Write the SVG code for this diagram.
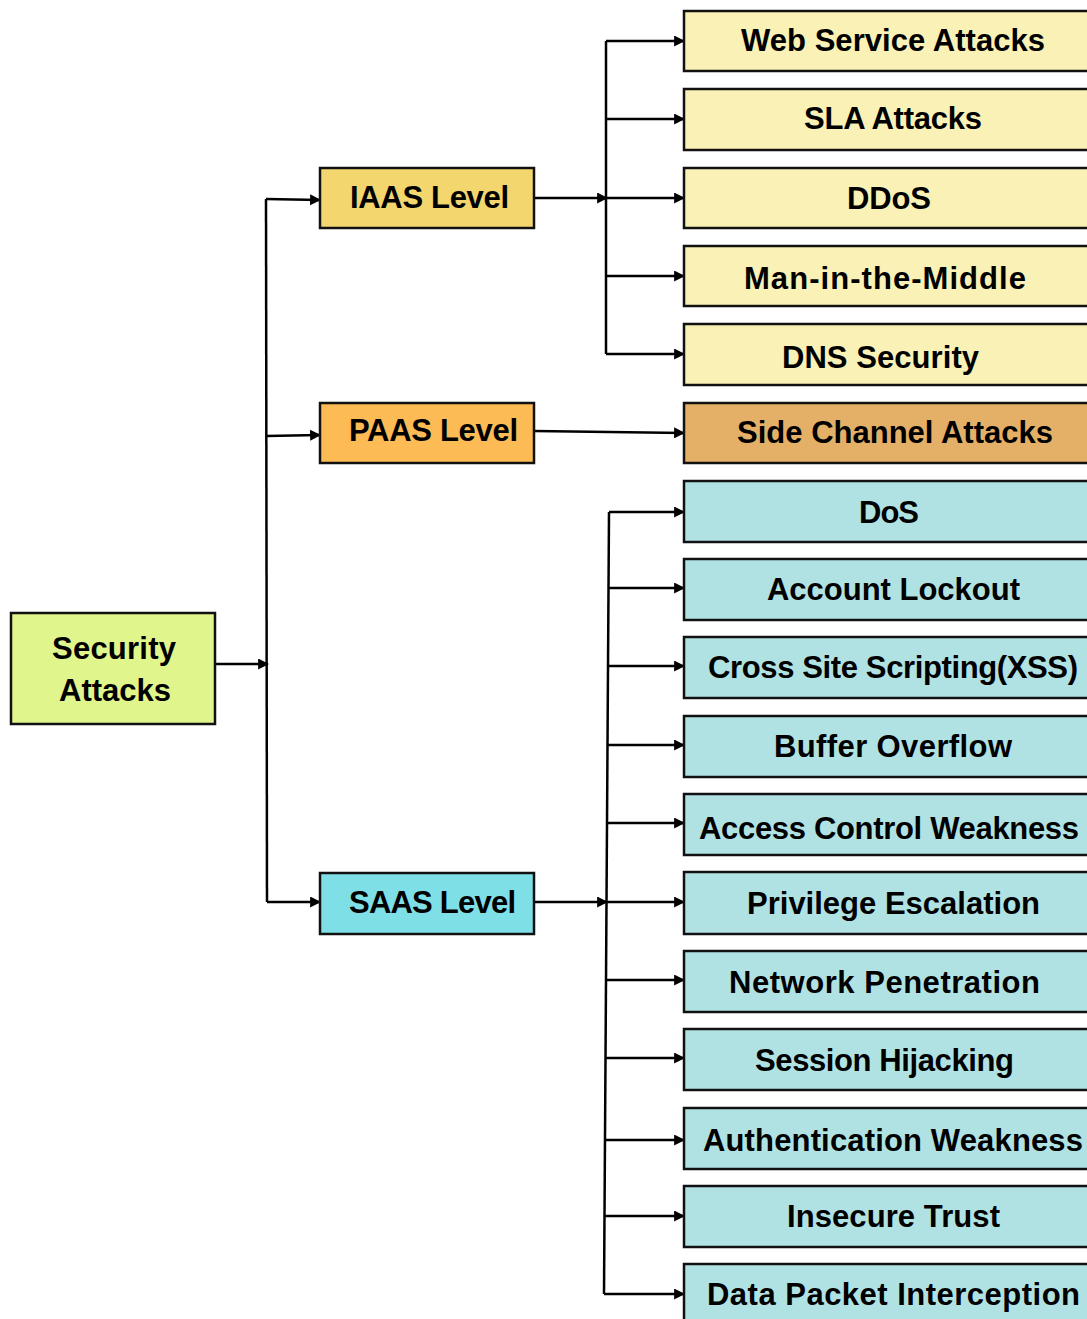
<svg xmlns="http://www.w3.org/2000/svg" width="1087" height="1319" viewBox="0 0 1087 1319">
  <defs>
    <marker id="arrow" viewBox="0 0 10 10" refX="9" refY="5" markerWidth="4.4" markerHeight="4.4" orient="auto" markerUnits="strokeWidth">
      <path d="M0,0 L10,5 L0,10 z" fill="#000"/>
    </marker>
    <style>
      .box { stroke: #111; stroke-width: 2.5; }
      .root { fill: #e0f58b; }
      .iaas { fill: #f3d66e; }
      .paas { fill: #fdbb55; }
      .saas { fill: #7fdfe6; }
      .leafY { fill: #f9f1b5; }
      .leafO { fill: #e4b067; }
      .leafT { fill: #b1e2e3; }
      .lbl { font-family: "Liberation Sans", Arial, sans-serif; font-weight: bold; font-size: 31px; fill: #000; text-anchor: middle; }
      .wire { fill: none; stroke: #000; stroke-width: 2.5; }
      .wire.arr { marker-end: url(#arrow); }
    </style>
  </defs>

  <rect width="1087" height="1319" fill="#fff"/>

  <!-- connectors -->
  <g id="connectors">
    <!-- root to level trunk -->
    <path class="wire arr" d="M215,664 L268,664"/>
    <path class="wire" d="M266,199 L267,902"/>
    <path class="wire arr" d="M266,199 L320,200"/>
    <path class="wire arr" d="M266,436 L320,435"/>
    <path class="wire arr" d="M267,902 L320,902"/>

    <!-- IAAS branch -->
    <path class="wire arr" d="M534,198 L607,198"/>
    <path class="wire" d="M606,41 L606,354"/>
    <path class="wire arr" d="M606,41 L684,41"/>
    <path class="wire arr" d="M606,119 L684,119"/>
    <path class="wire arr" d="M606,198 L684,198"/>
    <path class="wire arr" d="M606,276 L684,276"/>
    <path class="wire arr" d="M606,354 L684,354"/>

    <!-- PAAS branch -->
    <path class="wire arr" d="M534,431 L684,433"/>

    <!-- SAAS branch -->
    <path class="wire arr" d="M534,902 L607,902"/>
    <path class="wire" d="M609,512 L604,1294"/>
    <path class="wire arr" d="M609,512 L684,512"/>
    <path class="wire arr" d="M608,588 L684,588"/>
    <path class="wire arr" d="M608,666 L684,666"/>
    <path class="wire arr" d="M607,745 L684,745"/>
    <path class="wire arr" d="M607,823 L684,823"/>
    <path class="wire arr" d="M606,902 L684,902"/>
    <path class="wire arr" d="M606,980 L684,980"/>
    <path class="wire arr" d="M605,1058 L684,1058"/>
    <path class="wire arr" d="M605,1140 L684,1140"/>
    <path class="wire arr" d="M605,1216 L684,1216"/>
    <path class="wire arr" d="M604,1294 L684,1294"/>
  </g>

  <!-- root -->
  <g id="security-attacks">
    <rect class="box root" x="11" y="613" width="204" height="111"/>
    <text class="lbl" x="114" y="659" textLength="124">Security</text>
    <text class="lbl" x="115" y="701" textLength="112">Attacks</text>
  </g>

  <!-- service levels -->
  <g id="iaas-level">
    <rect class="box iaas" x="320" y="168" width="214" height="60"/>
    <text class="lbl" x="429.5" y="208" textLength="159">IAAS Level</text>
  </g>
  <g id="paas-level">
    <rect class="box paas" x="320" y="403" width="214" height="60"/>
    <text class="lbl" x="433.5" y="441" textLength="169">PAAS Level</text>
  </g>
  <g id="saas-level">
    <rect class="box saas" x="320" y="873" width="214" height="61"/>
    <text class="lbl" x="432.5" y="913" textLength="167">SAAS Level</text>
  </g>

  <!-- IAAS attacks -->
  <g id="web-service-attacks">
    <rect class="box leafY" x="684" y="11" width="420" height="60"/>
    <text class="lbl" x="893" y="51" textLength="304">Web Service Attacks</text>
  </g>
  <g id="sla-attacks">
    <rect class="box leafY" x="684" y="89" width="420" height="61"/>
    <text class="lbl" x="893" y="129" textLength="178">SLA Attacks</text>
  </g>
  <g id="ddos">
    <rect class="box leafY" x="684" y="168" width="420" height="60"/>
    <text class="lbl" x="889" y="209" textLength="84">DDoS</text>
  </g>
  <g id="man-in-the-middle">
    <rect class="box leafY" x="684" y="246" width="420" height="60"/>
    <text class="lbl" x="885" y="289" textLength="282">Man-in-the-Middle</text>
  </g>
  <g id="dns-security">
    <rect class="box leafY" x="684" y="324" width="420" height="61"/>
    <text class="lbl" x="880.5" y="368" textLength="197">DNS Security</text>
  </g>

  <!-- PAAS attacks -->
  <g id="side-channel-attacks">
    <rect class="box leafO" x="684" y="403" width="420" height="60"/>
    <text class="lbl" x="895" y="443" textLength="316">Side Channel Attacks</text>
  </g>

  <!-- SAAS attacks -->
  <g id="dos">
    <rect class="box leafT" x="684" y="481" width="420" height="61"/>
    <text class="lbl" x="889" y="523" textLength="60">DoS</text>
  </g>
  <g id="account-lockout">
    <rect class="box leafT" x="684" y="559" width="420" height="61"/>
    <text class="lbl" x="893.5" y="600" textLength="253">Account Lockout</text>
  </g>
  <g id="cross-site-scripting">
    <rect class="box leafT" x="684" y="637" width="420" height="61"/>
    <text class="lbl" x="893" y="678" textLength="370">Cross Site Scripting(XSS)</text>
  </g>
  <g id="buffer-overflow">
    <rect class="box leafT" x="684" y="716" width="420" height="61"/>
    <text class="lbl" x="893" y="757" textLength="238">Buffer Overflow</text>
  </g>
  <g id="access-control-weakness">
    <rect class="box leafT" x="684" y="794" width="420" height="61"/>
    <text class="lbl" x="889" y="839" textLength="380">Access Control Weakness</text>
  </g>
  <g id="privilege-escalation">
    <rect class="box leafT" x="684" y="872" width="420" height="62"/>
    <text class="lbl" x="893.5" y="914" textLength="293">Privilege Escalation</text>
  </g>
  <g id="network-penetration">
    <rect class="box leafT" x="684" y="951" width="420" height="61"/>
    <text class="lbl" x="884.5" y="993" textLength="311">Network Penetration</text>
  </g>
  <g id="session-hijacking">
    <rect class="box leafT" x="684" y="1029" width="420" height="61"/>
    <text class="lbl" x="884.5" y="1071" textLength="259">Session Hijacking</text>
  </g>
  <g id="authentication-weakness">
    <rect class="box leafT" x="684" y="1108" width="420" height="61"/>
    <text class="lbl" x="893" y="1151" textLength="380">Authentication Weakness</text>
  </g>
  <g id="insecure-trust">
    <rect class="box leafT" x="684" y="1186" width="420" height="61"/>
    <text class="lbl" x="893.5" y="1227" textLength="213">Insecure Trust</text>
  </g>
  <g id="data-packet-interception">
    <rect class="box leafT" x="684" y="1264" width="420" height="70"/>
    <text class="lbl" x="893.5" y="1305" textLength="373">Data Packet Interception</text>
  </g>
</svg>
